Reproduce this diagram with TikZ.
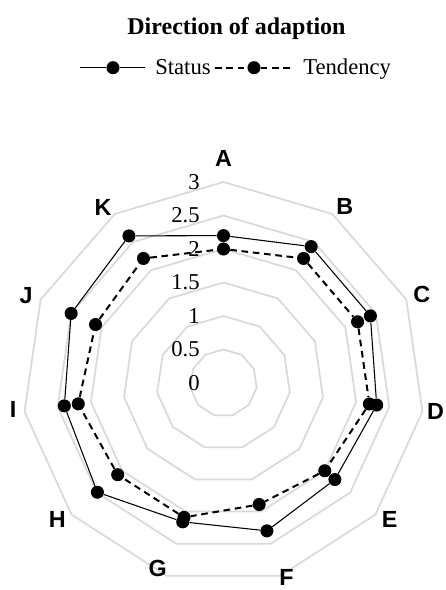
\documentclass[tikz,border=0pt]{standalone}
\usepackage{fontspec}
\setmainfont{Liberation Serif}
\newfontfamily\axisfont{Liberation Sans}
\definecolor{colorgrid}{HTML}{D9D9D9}
\tikzset{
  ringgrid/.style={colorgrid, line width=1.3pt, line join=miter},
  edgestatus/.style={black, line width=0.8pt},
  edgetend/.style={black, line width=1.5pt, dash pattern=on 5pt off 3.5pt},
  dotmark/.style={circle, fill=black, inner sep=0pt, minimum size=9.8pt},
  axislab/.style={font=\axisfont\bfseries\fontsize{17.5}{20}\selectfont, inner sep=0pt},
  ticklab/.style={font=\fontsize{17}{20}\selectfont, inner sep=0pt, anchor=east},
  legtext/.style={font=\fontsize{17}{20}\selectfont, inner sep=0pt, anchor=base west}
}

\begin{document}
\begin{tikzpicture}[x=0.75pt, y=0.75pt]
\useasboundingbox (-223.5,-207) rectangle (222.5,383);
\foreach \lev in {1,...,6}
  \draw[ringgrid] (90:{\lev*33.5}) \foreach \i in {1,...,10} { -- ({90-\i*360/11}:{\lev*33.5}) } -- cycle;
\foreach \t [count=\k from 0] in {0,0.5,1,1.5,2,2.5,3}
  \node[ticklab] (tick\k) at (-23.5,{\k*33.5}) {\t};
\foreach \lab/\ang/\rad in {A/90/225,B/55.5/214,C/24/217,D/-7.7/214,E/-39.4/215,F/-72/204,G/250.5/197,H/219.4/215,I/187.3/212,J/156/216,K/124.4/213}
  \node[axislab] (ax-\lab) at (\ang:\rad) {\lab};
% status
\foreach \v [count=\i from 0] in {2.2,2.42,2.41,2.31,2.2,2.3,2.16,2.49,2.4,2.5,2.61}
  \node[dotmark] (s-\i) at ({90-\i*360/11}:{\v*67}) {};
\draw[edgestatus] (s-0) -- (s-1) -- (s-2) -- (s-3) -- (s-4) -- (s-5) -- (s-6) -- (s-7) -- (s-8) -- (s-9) -- (s-10) -- (s-0);
% tendency
\foreach \v [count=\i from 0] in {2.0,2.21,2.2,2.2,2.0,1.89,2.09,2.09,2.19,2.1,2.21}
  \node[dotmark] (t-\i) at ({90-\i*360/11}:{\v*67}) {};
\draw[edgetend] (t-0) -- (t-1) -- (t-2) -- (t-3) -- (t-4) -- (t-5) -- (t-6) -- (t-7) -- (t-8) -- (t-9) -- (t-10) -- (t-0);
\node[font=\bfseries\fontsize{18}{21}\selectfont, anchor=base] (title) at (13,348) {Direction of adaption};
\coordinate (ls-a) at (-143.5,315.3);
\coordinate (ls-b) at (-78.5,315.3);
\node[dotmark] (ls-m) at (-110.5,315.3) {};
\draw[edgestatus] (ls-a) -- (ls-m) -- (ls-b);
\node[legtext] (leg-s) at (-68.5,308) {Status};
\coordinate (lt-a) at (-8.5,315.3);
\coordinate (lt-b) at (66.5,315.3);
\node[dotmark] (lt-m) at (30.5,315.3) {};
\draw[edgetend] (lt-a) -- (lt-m) -- (lt-b);
\node[legtext] (leg-t) at (79.5,308) {Tendency};
\end{tikzpicture}
\end{document}
